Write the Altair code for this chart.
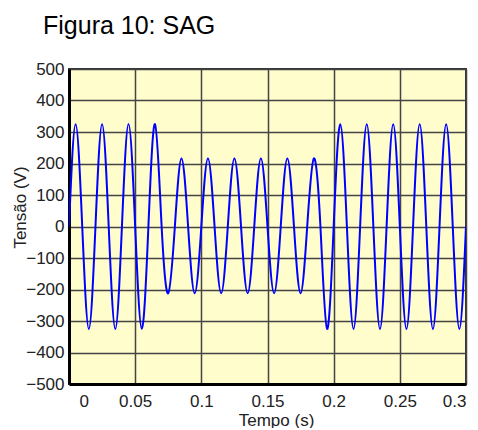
import altair as alt
import pandas as pd

# Key points of the waveform (every quarter period)
tempo = [0.000, 0.005, 0.010, 0.015, 0.020, 0.025, 0.030, 0.035, 0.040, 0.045,
         0.050, 0.055, 0.060, 0.065, 0.070, 0.075, 0.080, 0.085, 0.090, 0.095,
         0.100, 0.105, 0.110, 0.115, 0.120, 0.125, 0.130, 0.135, 0.140, 0.145,
         0.150, 0.155, 0.160, 0.165, 0.170, 0.175, 0.180, 0.185, 0.190, 0.195,
         0.200, 0.205, 0.210, 0.215, 0.220, 0.225, 0.230, 0.235, 0.240, 0.245,
         0.250, 0.255, 0.260, 0.265, 0.270, 0.275, 0.280, 0.285, 0.290, 0.295,
         0.300]
tensao = [0, 325, 0, -325, 0, 325, 0, -325, 0, 325,
          0, -325, 0, 325, 0, -212, 0, 216, 0, -212,
          0, 216, 0, -212, 0, 216, 0, -212, 0, 216,
          0, -212, 0, 216, 0, -212, 0, 216, 0, -325,
          0, 325, 0, -325, 0, 325, 0, -325, 0, 325,
          0, -325, 0, 325, 0, -325, 0, 325, 0, -325,
          0]

x_ticks = [0, 0.05, 0.1, 0.15, 0.2, 0.25, 0.3]
y_ticks = [-500, -400, -300, -200, -100, 0, 100, 200, 300, 400, 500]

df = pd.DataFrame({"t": tempo, "v": tensao})

FONT = "Liberation Sans"

chart = alt.Chart(df).mark_line(
    color="#0000FF", strokeWidth=2, interpolate="natural", clip=True
).encode(
    x=alt.X("t:Q", scale=alt.Scale(domain=[0, 0.3], nice=False, zero=False),
            axis=alt.Axis(values=x_ticks, format="~g", title="Tempo (s)",
                          grid=True, gridColor="#444444", gridWidth=1.5,
                          ticks=False, labelPadding=9, labelFontSize=17,
                          labelFont=FONT, labelColor="#222",
                          labelOffset=alt.ExprRef("datum.value == 0 ? 10 : 0"),
                          domainColor="black", domainWidth=3,
                          titleFont=FONT, titleFontSize=17, titleFontWeight="normal",
                          titleColor="#222", titleBaseline="alphabetic",
                          titleX=207, titleY=41, titleAnchor="middle")),
    y=alt.Y("v:Q", scale=alt.Scale(domain=[-500, 500], nice=False),
            axis=alt.Axis(values=y_ticks, title="Tensão (V)",
                          grid=True, gridColor="#444444", gridWidth=1.5,
                          ticks=False, labelPadding=5, labelFontSize=17,
                          labelFont=FONT, labelColor="#222",
                          domainColor="black", domainWidth=3,
                          titleFont=FONT, titleFontSize=17, titleFontWeight="normal",
                          titleColor="#222", titleBaseline="alphabetic",
                          titleX=-44, titleY=138, titleAnchor="middle")),
).properties(
    width=397,
    height=315,
    title=alt.TitleParams("Figura 10: SAG", anchor="start", frame="group",
                          font=FONT, fontSize=25, fontWeight="normal",
                          color="black", dx=-26, baseline="alphabetic", offset=1),
    padding={"left": 61, "top": 61, "right": 4, "bottom": 44},
    autosize=alt.AutoSizeParams(type="none"),
).configure_view(
    fill="#FFFDCC", stroke="#333333", strokeWidth=2
)

chart.save("out.html", embed_options={"renderer": "svg", "actions": False})
